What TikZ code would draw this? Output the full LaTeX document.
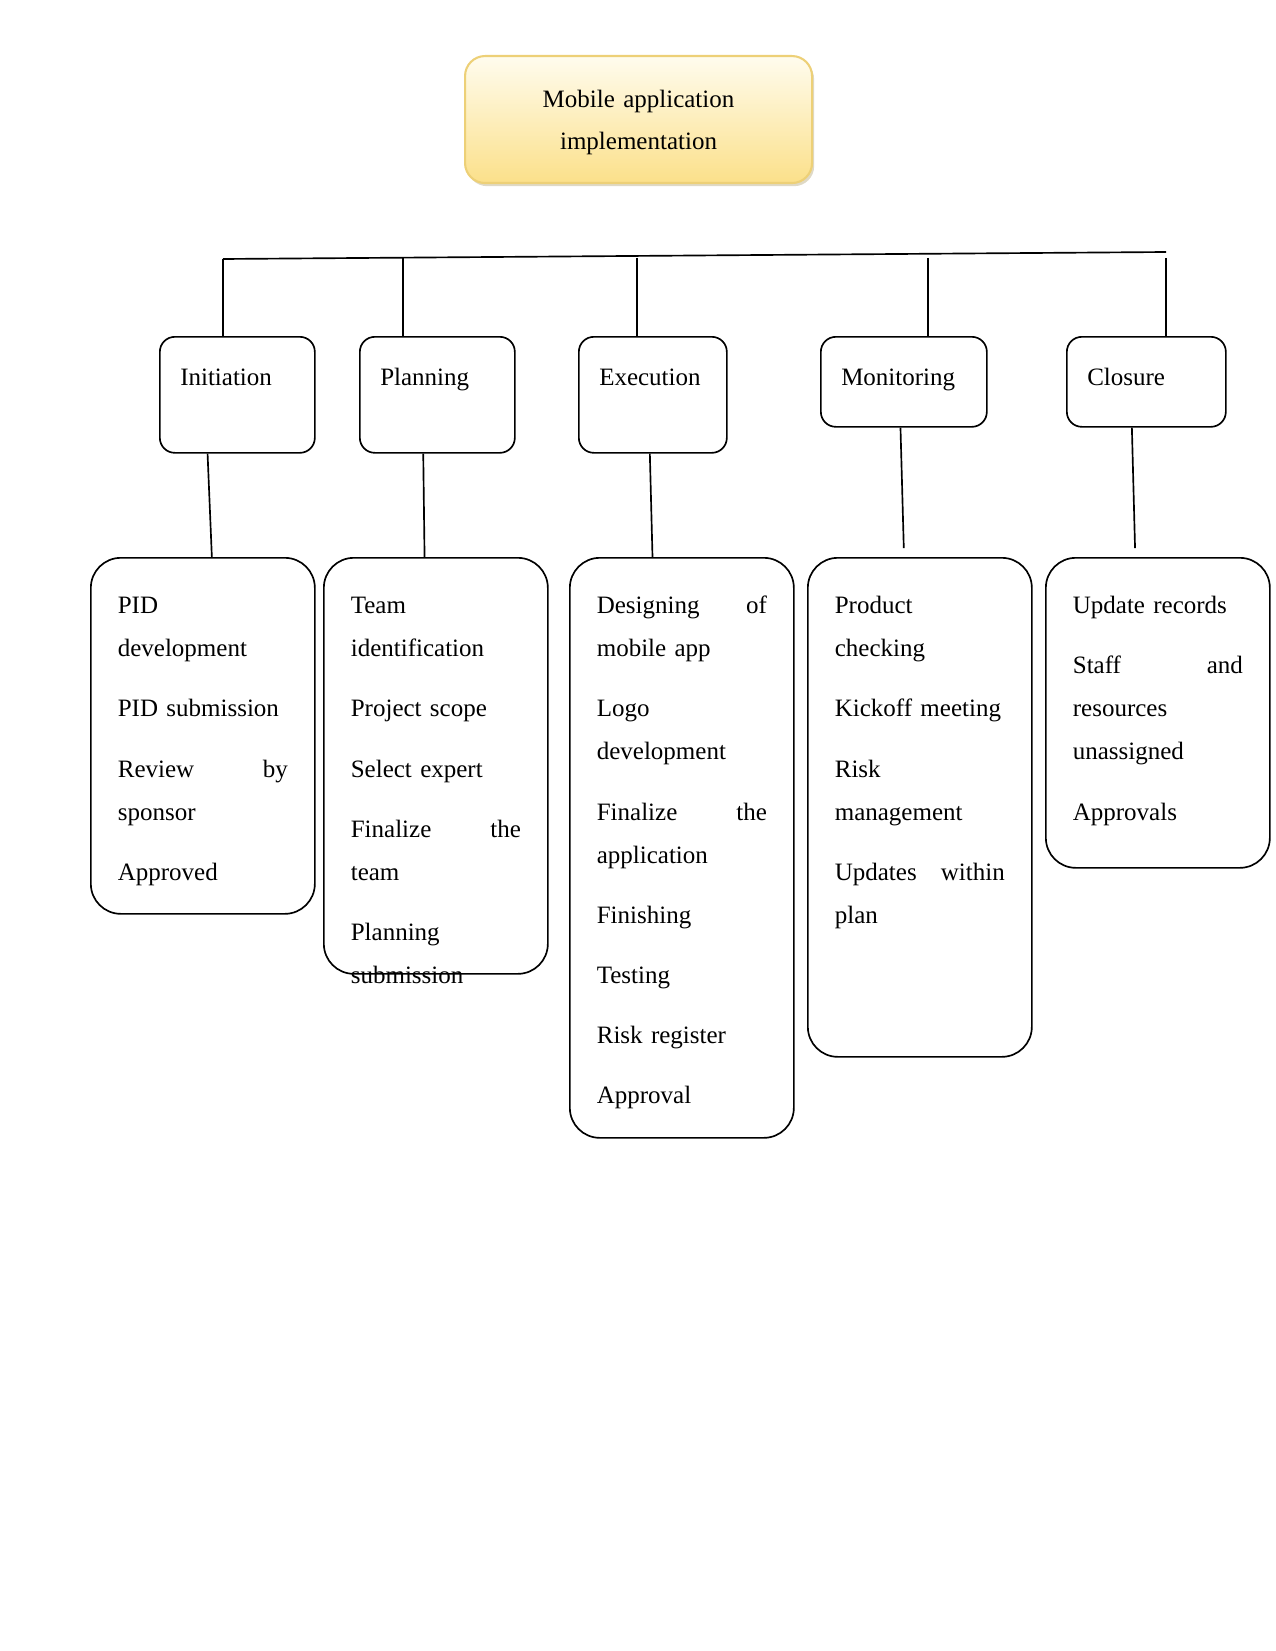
\documentclass[tikz,border=0pt]{standalone}
\usepackage{fontspec}
\setmainfont{Liberation Serif}
\usepackage{tikz}
\usetikzlibrary{calc, shadows}
\definecolor{headtop}{HTML}{FFFCEE}
\definecolor{headbottom}{HTML}{FBE08A}
\definecolor{headrim}{HTML}{EDD077}
\definecolor{headshade}{HTML}{C9C0A0}

\begin{document}
\begin{tikzpicture}[x=0.48pt, y=-0.48pt, line width=0.8pt]
        \tikzstyle{head} = [rectangle, draw=headrim, line width=1pt, top color=headtop, bottom color=headbottom, rounded corners=9.6pt, drop shadow={shadow xshift=1pt, shadow yshift=-1.5pt, fill=headshade, opacity=0.6}, text width=156.56pt, align=center, inner xsep=5pt, inner ysep=0pt, text height=24.48pt, text depth=36.48pt, font=\fontsize{12pt}{20.4pt}\selectfont, anchor=north west]
        \tikzstyle{phase} = [rectangle, draw, rounded corners=7.2pt, align=left, inner xsep=9.8pt, inner ysep=0pt, text height=23.52pt, font=\fontsize{12pt}{14pt}\selectfont, anchor=north west]
        \tikzstyle{tasks} = [rectangle, draw, rounded corners=14.4pt, align=left, text width=81.6pt, inner xsep=12.96pt, inner ysep=0pt, text height=26.88pt, font=\fontsize{12pt}{20.64pt}\selectfont, anchor=north west]

        \useasboundingbox (0,0) rectangle (1275,1651);

        \node [head] (app) at (464,55) {Mobile application\\implementation};

        \node [phase, text width=54.8pt, text depth=32.16pt] (init) at (159,336) {Initiation};
        \node [phase, text width=54.8pt, text depth=32.16pt] (plan) at (359,336) {Planning};
        \node [phase, text width=51.44pt, text depth=32.16pt] (exec) at (578,336) {Execution};
        \node [phase, text width=60.08pt, text depth=19.68pt] (mon) at (820,336) {Monitoring};
        \node [phase, text width=56.72pt, text depth=19.68pt] (clo) at (1066,336) {Closure};

        \node [tasks, text depth=144pt] (initd) at (90,557) {PID\\development\\[8.2pt]PID submission\\[8.2pt]Review\hfill by\\sponsor\\[8.2pt]Approved};
        \node [tasks, text depth=172.8pt] (pland) at (323,557) {Team\\identification\\[8.2pt]Project scope\\[8.2pt]Select expert\\[8.2pt]Finalize\hfill the\\team\\[8.2pt]Planning\\submission};
        \node [tasks, text depth=251.52pt] (execd) at (569,557) {Designing\hfill of\\mobile app\\[8.2pt]Logo\\development\\[8.2pt]Finalize\hfill the\\application\\[8.2pt]Finishing\\[8.2pt]Testing\\[8.2pt]Risk register\\[8.2pt]Approval};
        \node [tasks, text depth=212.64pt] (mond) at (807,557) {Product\\checking\\[8.2pt]Kickoff meeting\\[8.2pt]Risk\\management\\[8.2pt]Updates\hfill within\\plan};
        \node [tasks, text depth=121.92pt] (clod) at (1045,557) {Update records\\[8.2pt]Staff\hfill and\\resources\\unassigned\\[8.2pt]Approvals};

        \coordinate (busl) at (223,259);
        \coordinate (busr) at (1166,252);
        \coordinate (dplan) at (403,258);
        \coordinate (dexec) at (637,258);
        \coordinate (dmon) at (928,258);
        \coordinate (dclo) at (1166,258);

        \path [draw] (busl) -- (busr);
        \path [draw] (busl) -- (busl |- init.north);
        \path [draw] (dplan) -- (dplan |- plan.north);
        \path [draw] (dexec) -- (dexec |- exec.north);
        \path [draw] (dmon) -- (dmon |- mon.north);
        \path [draw] (dclo) -- (dclo |- clo.north);

        \path [draw] ($(init.south west)!0.31!(init.south east)$) -- ($(initd.north west)!0.54!(initd.north east)$);
        \path [draw] ($(plan.south west)!0.41!(plan.south east)$) -- ($(pland.north west)!0.45!(pland.north east)$);
        \path [draw] ($(exec.south west)!0.48!(exec.south east)$) -- ($(execd.north west)!0.37!(execd.north east)$);
        \path [draw, shorten >=4.3pt] ($(mon.south west)!0.48!(mon.south east)$) -- ($(mond.north west)!0.43!(mond.north east)$);
        \path [draw, shorten >=4.3pt] ($(clo.south west)!0.41!(clo.south east)$) -- ($(clod.north west)!0.40!(clod.north east)$);
    \end{tikzpicture}
\end{document}
